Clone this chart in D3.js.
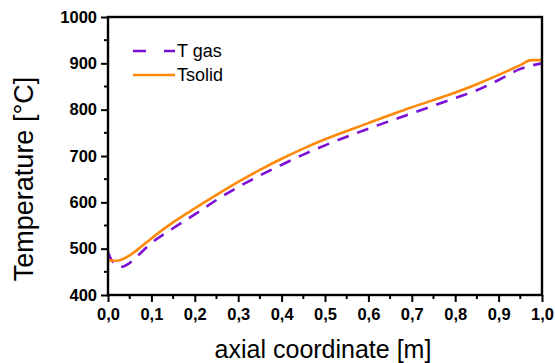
<!DOCTYPE html>
<html>
<head>
<meta charset="utf-8">
<script src="https://cdn.jsdelivr.net/npm/d3@7"></script>
<style>
  body { margin: 0; background: #fff; }
  svg { display: block; font-family: Arial, "Liberation Sans", sans-serif; }
</style>
</head>
<body>
<svg id="chart" width="555" height="363"></svg>
<script>
// data
const xSolid = [0, 0.01, 0.02, 0.03, 0.04, 0.06, 0.08, 0.1, 0.135, 0.2, 0.25, 0.3, 0.35, 0.4, 0.45, 0.5, 0.6, 0.7, 0.8, 0.85, 0.9, 0.95, 0.975, 1.0];
const tSolid = [476, 474, 474, 476, 480, 492, 507, 522, 547, 587, 616, 644, 670, 694, 716, 736, 771, 805, 837, 855, 875, 896, 907, 907];
const xGas = [0, 0.005, 0.015, 0.025, 0.033, 0.045, 0.06, 0.08, 0.1, 0.15, 0.2, 0.25, 0.3, 0.35, 0.4, 0.45, 0.5, 0.6, 0.7, 0.8, 0.85, 0.9, 0.95, 1.0];
const tGas = [493, 481, 468, 462, 461, 466, 477, 495, 512, 544, 574, 605, 633, 658, 681, 703, 723, 759, 792, 825, 842, 864, 888, 900];
const xTicks = [0, 0.1, 0.2, 0.3, 0.4, 0.5, 0.6, 0.7, 0.8, 0.9, 1.0];
const yTicks = [400, 500, 600, 700, 800, 900, 1000];
const seriesNames = ["T gas", "Tsolid"];

const svg = d3.select("#chart");
const mLeft = 108, mRight = 542, mTop = 17, mBottom = 295;

const x = d3.scaleLinear().domain([0, 1]).range([mLeft, mRight]);
const y = d3.scaleLinear().domain([400, 1000]).range([mBottom, mTop]);

const fmtX = d => d3.format(".1f")(d).replace(".", ",");

// minor ticks
const xMinor = d3.range(0.05, 1, 0.1);
const yMinor = d3.range(450, 1000, 100);

svg.append("g").selectAll("line").data(xMinor).join("line")
  .attr("x1", d => x(d)).attr("x2", d => x(d))
  .attr("y1", mBottom).attr("y2", mBottom + 4)
  .attr("stroke", "#000").attr("stroke-width", 2);
svg.append("g").selectAll("line").data(yMinor).join("line")
  .attr("y1", d => y(d)).attr("y2", d => y(d))
  .attr("x1", mLeft).attr("x2", mLeft - 4)
  .attr("stroke", "#000").attr("stroke-width", 2);

// major ticks + labels
const xAxis = svg.append("g").attr("transform", `translate(0,${mBottom})`)
  .call(d3.axisBottom(x).tickValues(xTicks).tickFormat(fmtX).tickSize(7).tickPadding(6));
const yAxis = svg.append("g").attr("transform", `translate(${mLeft},0)`)
  .call(d3.axisLeft(y).tickValues(yTicks).tickFormat(d3.format("d")).tickSize(7).tickPadding(4));

[xAxis, yAxis].forEach(g => {
  g.select(".domain").remove();
  g.selectAll(".tick line").attr("stroke", "#000").attr("stroke-width", 2);
  g.selectAll(".tick text").attr("fill", "#000")
    .style("font-size", "16.5px").style("font-weight", "bold")
    .style("font-family", "Arial, 'Liberation Sans', sans-serif");
});

// lines
svg.append("clipPath").attr("id", "clip").append("rect")
  .attr("x", mLeft).attr("y", mTop).attr("width", mRight - mLeft).attr("height", mBottom - mTop);

const line = d3.line().curve(d3.curveMonotoneX);
const gasPts = xGas.map((d, i) => [x(d), y(tGas[i])]);
const solidPts = xSolid.map((d, i) => [x(d), y(tSolid[i])]);

svg.append("path").attr("d", line(gasPts)).attr("clip-path", "url(#clip)")
  .attr("fill", "none").attr("stroke", "#7a10d6").attr("stroke-width", 2.6)
  .attr("stroke-dasharray", "12,9");
svg.append("path").attr("d", line(solidPts)).attr("clip-path", "url(#clip)")
  .attr("fill", "none").attr("stroke", "#ff8a0a").attr("stroke-width", 2.6);

// frame
svg.append("rect").attr("x", mLeft).attr("y", mTop)
  .attr("width", mRight - mLeft).attr("height", mBottom - mTop)
  .attr("fill", "none").attr("stroke", "#000").attr("stroke-width", 2.4);

// legend
const legend = svg.append("g");
legend.append("line").attr("x1", 133).attr("x2", 175).attr("y1", 51).attr("y2", 51)
  .attr("stroke", "#7a10d6").attr("stroke-width", 2.6).attr("stroke-dasharray", "13,18");
legend.append("line").attr("x1", 133).attr("x2", 175).attr("y1", 75).attr("y2", 75)
  .attr("stroke", "#ff8a0a").attr("stroke-width", 2.6);
legend.selectAll("text").data(seriesNames).join("text")
  .attr("x", 177).attr("y", (d, i) => 57 + i * 23.5)
  .style("font-size", "18px").text(d => d);

// axis titles
svg.append("text").attr("x", 323).attr("y", 358)
  .attr("text-anchor", "middle").style("font-size", "25px").text("axial coordinate [m]");
svg.append("text").attr("transform", "translate(33,179) rotate(-90)")
  .attr("text-anchor", "middle").style("font-size", "27px").text("Temperature [°C]");
</script>
</body>
</html>
